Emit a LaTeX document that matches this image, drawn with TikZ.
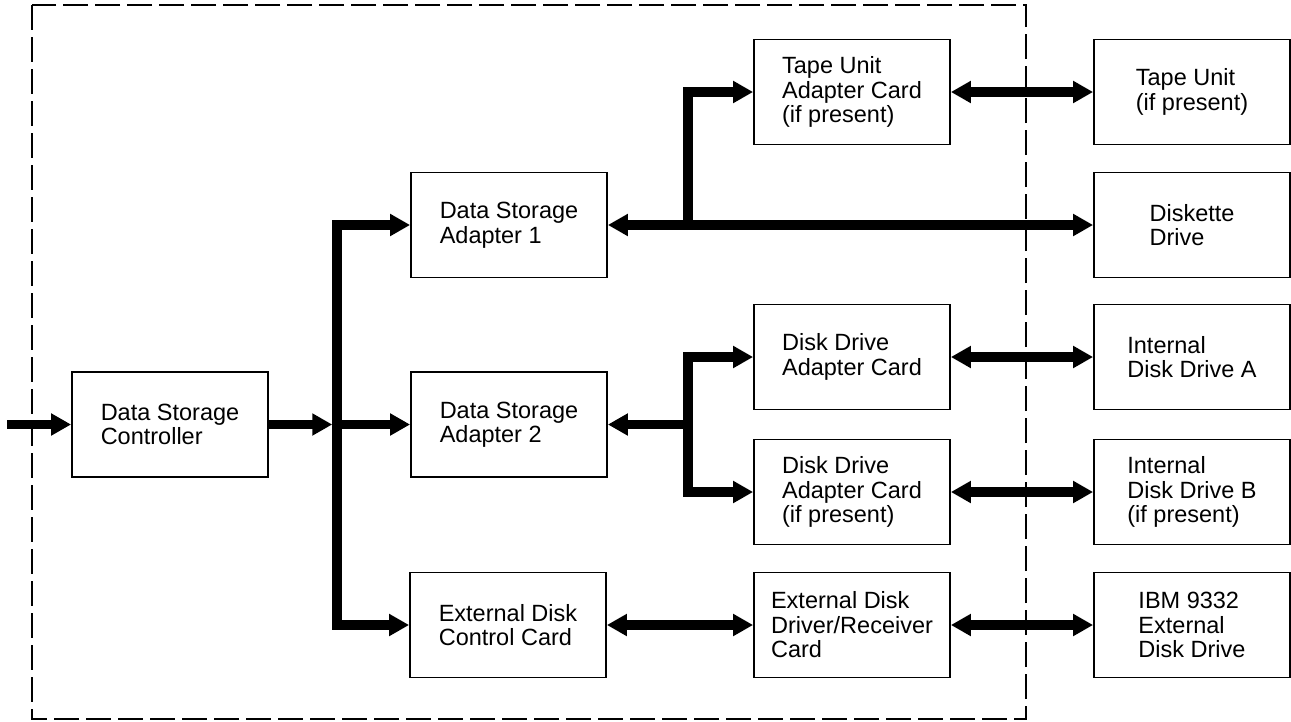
\documentclass[tikz,border=0pt]{standalone}
\usepackage{fontspec}
\setmainfont{Liberation Sans}
\usetikzlibrary{arrows.meta}
\begin{document}
\begin{tikzpicture}[x=1pt,y=-1pt,
  >={Triangle[length=20pt,width=21pt]},
  box/.style={draw, line width=1.8pt, minimum width=196pt, minimum height=105pt,
    inner sep=0pt, align=left, font=\fontsize{23.5}{24.5}\selectfont},
  bus/.style={line width=9.5pt},
  arr/.style={bus, ->},
  darr/.style={bus, <->},
  frame/.style={line width=2.5pt, dash pattern=on 25pt off 7pt}
]
\useasboundingbox (0,0) rectangle (1291,721);

% system unit boundary
\draw[frame] (32,5) rectangle (1026,719);

% cards and devices
\node[box] (dsc)  at (170,424.5) {Data Storage\\Controller};
\node[box] (dsa1) at (509,225)   {Data Storage\\Adapter 1};
\node[box] (dsa2) at (509,424.5) {Data Storage\\Adapter 2};
\node[box] (edcc) at (508,625)   {External Disk\\Control Card};
\node[box] (tua)  at (852,92)    {Tape Unit\\Adapter Card\\(if present)};
\node[box] (dda1) at (852,357)   {Disk Drive\\Adapter Card};
\node[box] (dda2) at (852,492)   {Disk Drive\\Adapter Card\\(if present)};
\node[box] (eddr) at (852,625)   {External Disk\\Driver/Receiver\\Card};
\node[box] (tu)   at (1192,92)   {Tape Unit\\(if present)};
\node[box] (dd)   at (1192,225)  {Diskette\\Drive};
\node[box] (ia)   at (1192,357)  {Internal\\Disk Drive A};
\node[box] (ib)   at (1192,492)  {Internal\\Disk Drive B\\(if present)};
\node[box] (ibm)  at (1192,625)  {IBM 9332\\External\\Disk Drive};

% junction points
\coordinate (in)  at (7,424.5);
\coordinate (bus) at (337,424.5);
\coordinate (tbr) at (688,225);
\coordinate (dbr) at (688,424.5);

% controller and adapter bus
\draw[arr] (in) -- (dsc.west);
\draw[arr, shorten >=4.75pt] (dsc.east) -- (bus);
\draw[arr] (bus) |- (dsa1.west);
\draw[arr] (bus) |- (edcc.west);
\draw[arr] (bus) -- (dsa2.west);

% adapter 1: diskette and tape
\draw[darr] (dsa1.east) -- (dd.west);
\draw[arr] (tbr) |- (tua.west);
\draw[darr] (tua.east) -- (tu.west);

% adapter 2: internal disks
\draw[arr] (dbr) -- (dsa2.east);
\draw[arr] (dbr) |- (dda1.west);
\draw[arr] (dbr) |- (dda2.west);
\draw[darr] (dda1.east) -- (ia.west);
\draw[darr] (dda2.east) -- (ib.west);

% external disk path
\draw[darr] (edcc.east) -- (eddr.west);
\draw[darr] (eddr.east) -- (ibm.west);
\end{tikzpicture}
\end{document}
